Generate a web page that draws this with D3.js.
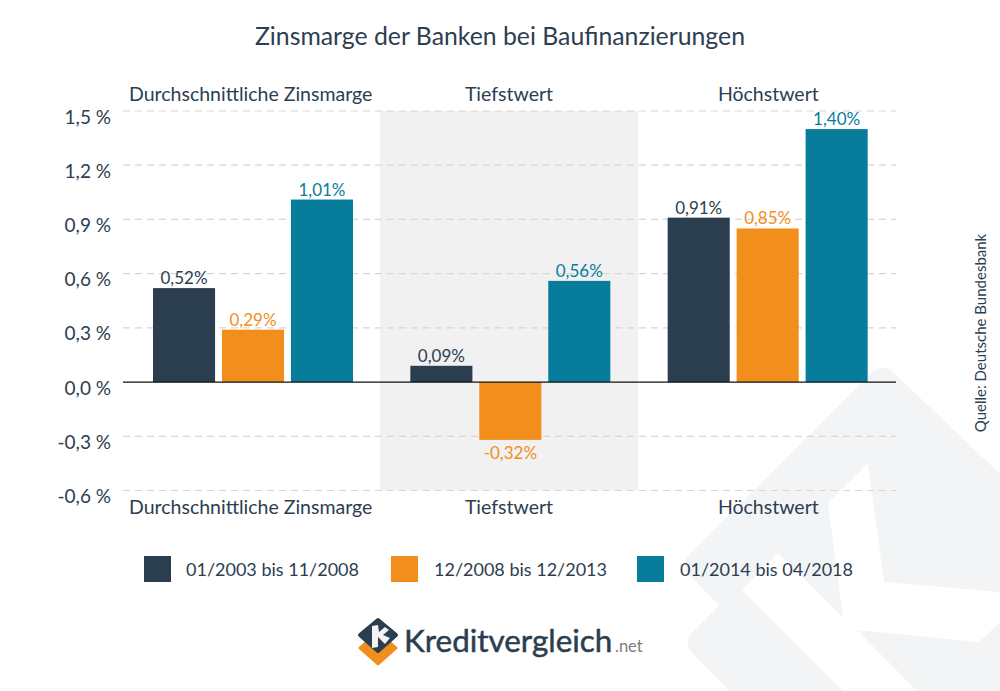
<!DOCTYPE html>
<html>
<head>
<meta charset="utf-8">
<script src="https://cdn.jsdelivr.net/npm/d3@7"></script>
<style>
  html, body { margin: 0; padding: 0; background: #fff; overflow: hidden; }
  text { font-family: Lato, sans-serif; fill: #2c3e50; }
</style>
</head>
<body>
<div id="chart"></div>
<script>
var groups = ['Durchschnittliche Zinsmarge', 'Tiefstwert', 'Höchstwert']
var periods = ['01/2003 bis 11/2008', '12/2008 bis 12/2013', '01/2014 bis 04/2018']
var colors = ['#2b3e50', '#f28e1c', '#087d9b']
var values1 = [0.52, 0.09, 0.91]
var values2 = [0.29, -0.32, 0.85]
var values3 = [1.01, 0.56, 1.40]
var yTicks = [-0.6, -0.3, 0, 0.3, 0.6, 0.9, 1.2, 1.5]
var series = [values1, values2, values3]

var w = 1000,
    h = 691

var svg = d3.select('#chart')
    .append('svg')
    .attr('width', w)
    .attr('height', h)
    .style('display', 'block')

var de = d3.formatLocale({ decimal: ',', thousands: '.', grouping: [3], currency: ['', ' €'], minus: '-' })
var fmt1 = de.format('.1f'),
    fmt2 = de.format('.2f')

// scales
var xscale = d3.scaleBand().domain(groups).range([124, 896])
var inner = d3.scaleBand().domain(d3.range(3)).range([29, 229]).paddingInner(0.1)
var yscale = d3.scaleLinear().domain([-0.6, 1.5]).range([490.5, 111])

// watermark, logo shape in the bottom right corner
svg.append('path')
    .attr('d', 'M883,383 L1040,533 L1040,740 L800,740 L703,643 L740.5,605.5 L700,565 Z')
    .attr('fill', '#f3f4f6')
    .attr('stroke', '#f3f4f6')
    .attr('stroke-width', 30)
    .attr('stroke-linejoin', 'round')
svg.append('path')
    .attr('d', 'M868,463 L828,503 L843,618 L778,553 L742,590 L843,691 L917,691 L857,630 L979,642 L1000,622 L1000,592 L884,582 Z')
    .attr('fill', '#fff')

// shaded middle group
svg.append('rect')
    .attr('x', 380)
    .attr('y', yscale(1.5))
    .attr('width', 258)
    .attr('height', yscale(-0.6) - yscale(1.5))
    .attr('fill', '#f1f1f1')

// axis
var yaxis = d3.axisLeft(yscale)
    .tickValues(yTicks)
    .tickFormat(d => fmt1(d) + ' %')
    .tickSize(0)
    .tickPadding(0)

var yg = svg.append('g')
    .attr('transform', 'translate(111, 0)')
    .call(yaxis)
yg.select('.domain').remove()
yg.selectAll('text')
    .attr('dy', 12)
    .style('font-family', 'Lato, sans-serif')
    .style('font-size', '19px')

// grid
svg.selectAll('.grid')
    .data(yTicks.filter(d => d !== 0))
    .enter()
    .append('line')
    .attr('class', 'grid')
    .attr('x1', 123)
    .attr('x2', 896)
    .attr('y1', d => yscale(d))
    .attr('y2', d => yscale(d))
    .attr('stroke', '#d6d6d6')
    .attr('stroke-width', 1.2)
    .attr('stroke-dasharray', '7,5')

// bars
series.forEach(function (vals, s) {
    svg.selectAll('.bar' + s)
        .data(vals)
        .enter()
        .append('rect')
        .attr('class', 'bar' + s)
        .attr('x', (d, i) => xscale(groups[i]) + inner(s))
        .attr('width', inner.bandwidth())
        .attr('y', d => yscale(Math.max(d, 0)))
        .attr('height', d => Math.abs(yscale(d) - yscale(0)))
        .attr('fill', colors[s])

    svg.selectAll('.label' + s)
        .data(vals)
        .enter()
        .append('text')
        .attr('class', 'label' + s)
        .text(d => fmt2(d) + '%')
        .attr('text-anchor', 'middle')
        .attr('x', (d, i) => xscale(groups[i]) + inner(s) + inner.bandwidth() / 2)
        .attr('y', d => d < 0 ? yscale(d) + 19 : yscale(d) - 4)
        .style('font-size', '17px')
        .style('fill', s === 0 ? '#2c3e50' : colors[s])
})

// zero line
svg.append('line')
    .attr('x1', 123)
    .attr('x2', 896)
    .attr('y1', yscale(0))
    .attr('y2', yscale(0))
    .attr('stroke', '#111')
    .attr('stroke-width', 1.3)

// title
svg.append('text')
    .text('Zinsmarge der Banken bei Baufinanzierungen')
    .attr('text-anchor', 'middle')
    .attr('x', 500)
    .attr('y', 45)
    .style('font-size', '24.8px')

// group labels top and bottom
;[101, 514].forEach(function (y) {
    svg.selectAll('.group' + y)
        .data(groups)
        .enter()
        .append('text')
        .attr('class', 'group' + y)
        .text(d => d)
        .attr('text-anchor', 'middle')
        .attr('x', d => xscale(d) + xscale.bandwidth() / 2 - (d === groups[0] ? 2 : 0) + (d === groups[2] ? 1 : 0) - (d === groups[1] ? 1 : 0))
        .attr('y', y)
        .style('font-size', '19.5px')
})

// legend
var legendX = [144, 391, 637],
    legendText = [186, 434, 680]

svg.selectAll('.swatch')
    .data(periods)
    .enter()
    .append('rect')
    .attr('class', 'swatch')
    .attr('x', (d, i) => legendX[i])
    .attr('y', 556)
    .attr('width', 27)
    .attr('height', 26)
    .attr('fill', (d, i) => colors[i])

svg.selectAll('.legend')
    .data(periods)
    .enter()
    .append('text')
    .attr('class', 'legend')
    .text(d => d)
    .attr('x', (d, i) => legendText[i])
    .attr('y', 576)
    .style('font-size', '18px')

// source
svg.append('text')
    .text('Quelle: Deutsche Bundesbank')
    .attr('text-anchor', 'middle')
    .attr('transform', 'translate(986, 333) rotate(-90)')
    .style('font-size', '15px')

// logo
var logo = svg.append('g')
logo.append('path')
    .attr('d', 'M378,632 L396,648 L378,664 L360,648 Z')
    .attr('fill', '#f28e1c')
    .attr('stroke', '#f28e1c')
    .attr('stroke-width', 3)
    .attr('stroke-linejoin', 'round')
logo.append('path')
    .attr('d', 'M378,620 L396,635 L378,651 L360,635 Z')
    .attr('fill', '#2b3e50')
    .attr('stroke', '#2b3e50')
    .attr('stroke-width', 4)
    .attr('stroke-linejoin', 'round')
logo.append('path')
    .attr('d', 'M372,626 L378,625 L379,632 L385,627 L389,630 L383,635 L390,638 L385,644 L378,637 L378,647 L372,648 Z')
    .attr('fill', '#f2f2f2')
logo.append('text')
    .text('Kreditvergleich')
    .attr('x', 404)
    .attr('y', 652)
    .style('font-size', '31.4px')
    .style('fill', '#2b3e50')
    .style('stroke', '#2b3e50')
    .style('stroke-width', 0.5)
logo.append('text')
    .text('.net')
    .attr('x', 615)
    .attr('y', 652)
    .style('font-size', '16.5px')
    .style('fill', '#7d7d7d')
</script>
</body>
</html>
